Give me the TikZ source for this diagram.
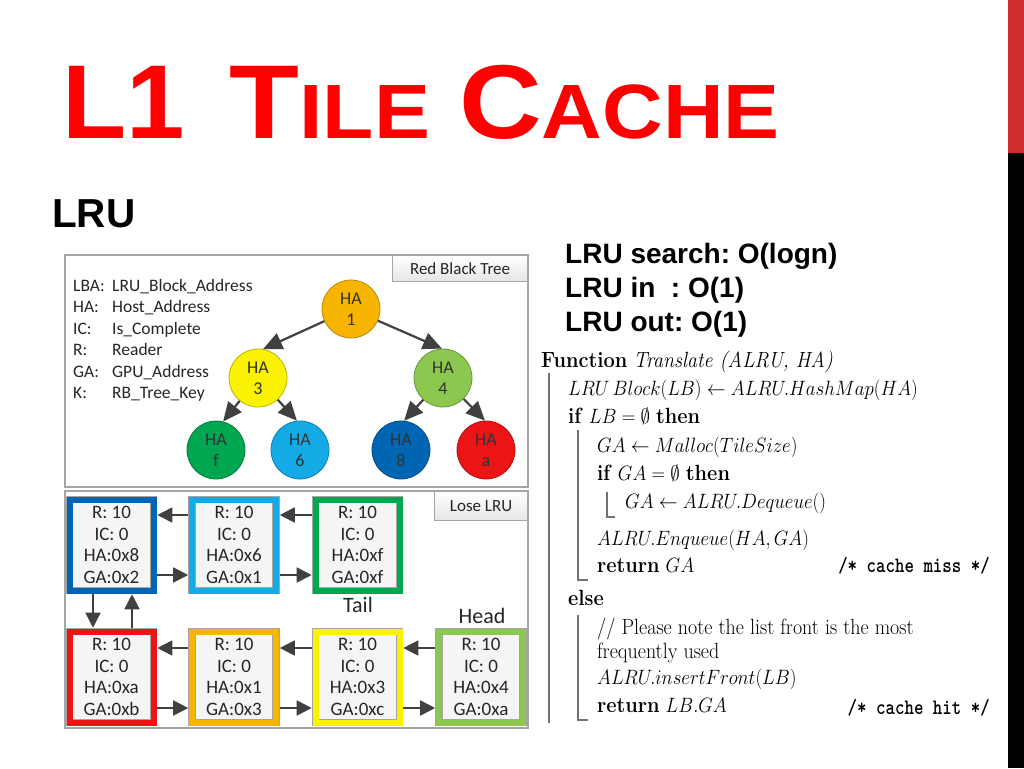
\documentclass[tikz,border=0pt]{standalone}
\usepackage{amssymb,amsmath}
\usepackage{fontspec}
\usepackage{xcolor}
\usetikzlibrary{calc,arrows.meta}
\newfontfamily\arialfont{Liberation Sans}
\newfontfamily\califont{Carlito}
\definecolor{titleRed}{RGB}{255,0,0}
\definecolor{barRed}{RGB}{207,46,46}
\definecolor{arrowGray}{RGB}{64,64,64}
\definecolor{frameGray}{RGB}{165,165,165}
\definecolor{haOrange}{RGB}{247,180,0}
\definecolor{haYellow}{RGB}{250,242,0}
\definecolor{haLime}{RGB}{140,200,80}
\definecolor{haGreen}{RGB}{0,166,80}
\definecolor{haSky}{RGB}{20,170,230}
\definecolor{haBlue}{RGB}{0,102,179}
\definecolor{haRed}{RGB}{236,20,20}
\newcommand{\squeeze}[1]{\scalebox{0.91}[1]{#1}}
\newcommand{\ttsqueeze}[1]{\scalebox{0.82}[1]{#1}}
\newcommand{\widen}[1]{\scalebox{1.09}[1]{#1}}
\newcommand{\smallcap}[1]{{\fontsize{77}{77}\selectfont #1}}

\begin{document}
\frenchspacing
\begin{tikzpicture}[x=1pt,y=-1pt,
  tnode/.style={circle,minimum size=58pt,inner sep=0pt,line width=0.8pt,fill=#1,draw=#1!75!black,align=center,font=\califont\fontsize{18}{20.7}\selectfont,text=black!80},
  tarrow/.style={draw=arrowGray,line width=2.2pt,-{Triangle[length=19pt,width=17pt]}},
  lrubox/.style={rectangle,minimum width=84pt,minimum height=91pt,inner sep=0pt,draw=frameGray,line width=0.6pt,double=#1,double distance=6pt,fill=black!4,align=center,font=\califont\fontsize{19}{21.5}\selectfont,text=black!85},
  larrow/.style={draw=arrowGray,line width=1.7pt,-{Triangle[length=15pt,width=15pt]},shorten >=3.5pt,shorten <=3.5pt},
  tag/.style={draw=frameGray,line width=0.8pt,top color=white,bottom color=black!10,inner sep=0pt,font=\califont\fontsize{17}{17}\selectfont,text=black!85},
  legend/.style={anchor=base west,inner sep=0pt,font=\califont\fontsize{17.5}{17.5}\selectfont,text=black!85},
  titletext/.style={anchor=base west,inner sep=0pt,text=titleRed,font=\arialfont\bfseries\fontsize{105}{105}\selectfont},
  costtext/.style={anchor=base west,inner sep=0pt,font=\arialfont\bfseries\fontsize{28}{28}\selectfont},
  algtext/.style={anchor=base west,inner sep=0pt,font=\fontsize{22}{26}\selectfont}]
\useasboundingbox (0,0) rectangle (1024,768);
\fill[white] (0,0) rectangle (1024,768);
\fill[barRed] (1008,0) rectangle (1024,153);
\fill[black] (1008,153) rectangle (1024,768);

\node[titletext] (tl1) at (62,138) {L1};
\node[titletext] (ttile) at (229.5,138) {\widen{T\smallcap{ILE}}};
\node[titletext] (tcache) at (459,138) {\widen{C\smallcap{ACHE}}};
\node[anchor=base west,inner sep=0pt,font=\arialfont\bfseries\fontsize{40.5}{40.5}\selectfont] (lru) at (52,227) {LRU};

\node[costtext] (cost1) at (565,263) {LRU search: O(logn)};
\node[costtext] (cost2) at (565,297) {LRU in~~: O(1)};
\node[costtext] (cost3) at (565,331) {LRU out: O(1)};

\draw[frameGray,line width=1.2pt] (65,255) rectangle (528,487);
\node[tag,minimum width=135pt,minimum height=26pt,anchor=north east] (rbtag) at (528,255) {Red Black Tree};
\foreach \k/\v [count=\i] in {LBA:/LRU\_Block\_Address,HA:/Host\_Address,IC:/Is\_Complete,R:/Reader,GA:/GPU\_Address,K:/RB\_Tree\_Key}{
  \node[legend] (key\i) at (73,{291+21.5*(\i-1)}) {\k};
  \node[legend] (val\i) at (112,{291+21.5*(\i-1)}) {\v};
}
\node[tnode=haOrange] (ha1) at (351,309) {HA\\1};
\node[tnode=haYellow] (ha3) at (258,378) {HA\\3};
\node[tnode=haLime] (ha4) at (443,378) {HA\\4};
\node[tnode=haGreen] (haf) at (216,450) {HA\\f};
\node[tnode=haSky] (ha6) at (300,450) {HA\\6};
\node[tnode=haBlue] (ha8) at (401,450) {HA\\8};
\node[tnode=haRed] (haa) at (486,450) {HA\\a};
\draw[tarrow] (ha1) -- (ha3.80);
\draw[tarrow] (ha1) -- (ha4.92);
\draw[tarrow] (ha3) -- (haf.76);
\draw[tarrow] (ha3) -- (ha6.96);
\draw[tarrow] (ha4) -- (ha8.84);
\draw[tarrow] (ha4) -- (haa.92);

\draw[frameGray,line width=1.2pt] (65,491) rectangle (528,728);
\node[tag,minimum width=93pt,minimum height=29pt,anchor=north east] (lrutag) at (528,491) {Lose LRU};
\node[lrubox=haBlue] (b8) at (111.5,545) {R: 10\\IC: 0\\HA:0x8\\GA:0x2};
\node[lrubox=haSky] (b6) at (234,545) {R: 10\\IC: 0\\HA:0x6\\GA:0x1};
\node[lrubox=haGreen] (bf) at (357.5,545) {R: 10\\IC: 0\\HA:0xf\\GA:0xf};
\node[lrubox=haRed] (ba) at (111.5,677) {R: 10\\IC: 0\\HA:0xa\\GA:0xb};
\node[lrubox=haOrange] (b1) at (234,677) {R: 10\\IC: 0\\HA:0x1\\GA:0x3};
\node[lrubox=haYellow] (b3) at (357.5,677) {R: 10\\IC: 0\\HA:0x3\\GA:0xc};
\node[lrubox=haLime] (b4) at (481,677) {R: 10\\IC: 0\\HA:0x4\\GA:0xa};
\node[font=\califont\fontsize{22}{22}\selectfont,text=black!85] (tail) at (358,605) {Tail};
\node[font=\califont\fontsize{22}{22}\selectfont,text=black!85] (head) at (482,616) {Head};
\draw[larrow] ([yshift=30pt]b6.west) -- ([yshift=30pt]b8.east);
\draw[larrow] ([yshift=30pt]bf.west) -- ([yshift=30pt]b6.east);
\draw[larrow] ([yshift=-30pt]b8.east) -- ([yshift=-30pt]b6.west);
\draw[larrow] ([yshift=-30pt]b6.east) -- ([yshift=-30pt]bf.west);
\draw[larrow] ([xshift=-18.5pt]b8.south) -- ([xshift=-18.5pt]ba.north);
\draw[larrow] ([xshift=20.5pt]ba.north) -- ([xshift=20.5pt]b8.south);
\draw[larrow] ([yshift=29pt]b1.west) -- ([yshift=29pt]ba.east);
\draw[larrow] ([yshift=29pt]b3.west) -- ([yshift=29pt]b1.east);
\draw[larrow] ([yshift=29pt]b4.west) -- ([yshift=29pt]b3.east);
\draw[larrow] ([yshift=-31pt]ba.east) -- ([yshift=-31pt]b1.west);
\draw[larrow] ([yshift=-31pt]b1.east) -- ([yshift=-31pt]b3.west);
\draw[larrow] ([yshift=-31pt]b3.east) -- ([yshift=-31pt]b4.west);

\node[algtext] (a1) at (541,367) {\squeeze{\textbf{Function} \textit{Translate (ALRU, HA)}}};
\node[algtext] (a2) at (568,395) {\squeeze{$LRU\,Block(LB) \leftarrow ALRU.HashMap(HA)$}};
\node[algtext] (a3) at (568,423) {\squeeze{\textbf{if} $LB=\emptyset$ \textbf{then}}};
\node[algtext] (a4) at (597,452) {\squeeze{$GA \leftarrow Malloc(TileSize)$}};
\node[algtext] (a5) at (597,480) {\squeeze{\textbf{if} $GA=\emptyset$ \textbf{then}}};
\node[algtext] (a6) at (625,508) {\squeeze{$GA \leftarrow ALRU.Dequeue()$}};
\node[algtext] (a7) at (597,545) {\squeeze{$ALRU.Enqueue(HA,GA)$}};
\node[algtext] (a8) at (597,572) {\squeeze{\textbf{return} $GA$}};
\node[algtext,anchor=base east] (miss) at (990,572) {\ttsqueeze{\ttfamily\bfseries /* cache miss */}};
\node[algtext] (a9) at (568,605) {\squeeze{\textbf{else}}};
\node[algtext] (a10) at (597,634) {\squeeze{// Please note the list front is the most}};
\node[algtext] (a11) at (597,658) {\squeeze{frequently used}};
\node[algtext] (a12) at (597,684) {\squeeze{$ALRU.insertFront(LB)$}};
\node[algtext] (a13) at (597,712) {\squeeze{\textbf{return} $LB.GA$}};
\node[algtext,anchor=base east] (hit) at (990,714) {\ttsqueeze{\ttfamily\bfseries /* cache hit */}};
\draw[black!55,line width=1.3pt] (549,373) -- (549,723);
\draw[black!55,line width=1.3pt] (578,430) -- (578,580) -- (588,580);
\draw[black!55,line width=1.3pt] (607,492) -- (607,517) -- (615,517);
\draw[black!55,line width=1.3pt] (578,615) -- (578,720) -- (588,720);
\end{tikzpicture}
\end{document}
